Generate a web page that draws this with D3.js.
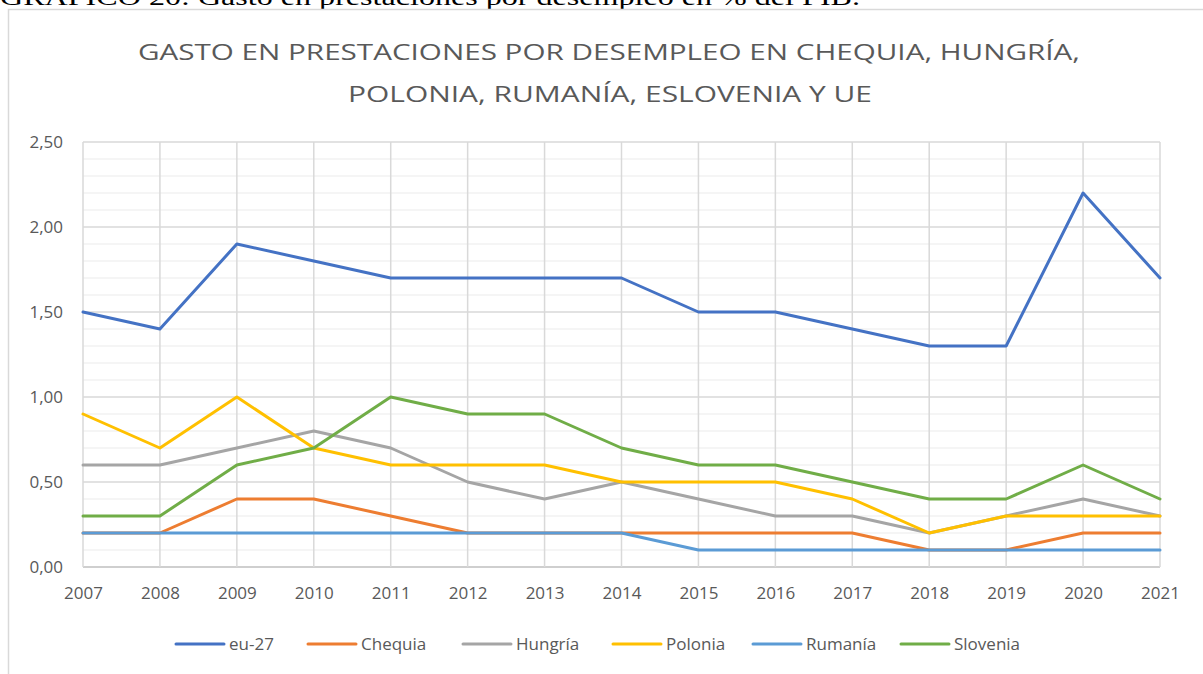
<!DOCTYPE html>
<html>
<head>
<meta charset="utf-8">
<script src="https://cdn.jsdelivr.net/npm/d3@7"></script>
<style>
  body { margin: 0; background: #fff; }
  svg { display: block; }
</style>
</head>
<body>
<svg id="chart" width="1203" height="674"></svg>
<script>
/*************** data ***************/
var years = [2007,2008,2009,2010,2011,2012,2013,2014,2015,2016,2017,2018,2019,2020,2021];
var seriesNames = ["eu-27","Chequia","Hungría","Polonia","Rumanía","Slovenia"];
var seriesColors = ["#4472C4","#ED7D31","#A5A5A5","#FFC000","#5B9BD5","#70AD47"];
var eu27     = [1.5,1.4,1.9,1.8,1.7,1.7,1.7,1.7,1.5,1.5,1.4,1.3,1.3,2.2,1.7];
var chequia  = [0.2,0.2,0.4,0.4,0.3,0.2,0.2,0.2,0.2,0.2,0.2,0.1,0.1,0.2,0.2];
var hungria  = [0.6,0.6,0.7,0.8,0.7,0.5,0.4,0.5,0.4,0.3,0.3,0.2,0.3,0.4,0.3];
var polonia  = [0.9,0.7,1.0,0.7,0.6,0.6,0.6,0.5,0.5,0.5,0.4,0.2,0.3,0.3,0.3];
var rumania  = [0.2,0.2,0.2,0.2,0.2,0.2,0.2,0.2,0.1,0.1,0.1,0.1,0.1,0.1,0.1];
var slovenia = [0.3,0.3,0.6,0.7,1.0,0.9,0.9,0.7,0.6,0.6,0.5,0.4,0.4,0.6,0.4];
var yTicks = [0,0.5,1,1.5,2,2.5];
var titleLines = ["GASTO EN PRESTACIONES POR DESEMPLEO EN CHEQUIA, HUNGRÍA,",
                  "POLONIA, RUMANÍA, ESLOVENIA Y UE"];
var caption = "GRÁFICO 20: Gasto en prestaciones por desempleo en % del PIB.";

var allValues = [eu27,chequia,hungria,polonia,rumania,slovenia];

/*************** setup ***************/
var svg = d3.select("#chart");
var margin = {left: 83, right: 43, top: 142, bottom: 107};
var W = 1203, H = 674;

var x = d3.scalePoint().domain(years).range([margin.left, W - margin.right]);
var y = d3.scaleLinear().domain([0, 2.5]).range([H - margin.bottom, margin.top]);

// caption from the document, its upper half is cut off by the page edge
svg.append("text")
   .attr("x", 0).attr("y", 5)
   .attr("textLength", 860)
   .attr("lengthAdjust", "spacingAndGlyphs")
   .attr("font-family", "Liberation Serif, serif")
   .attr("font-size", 24)
   .attr("fill", "#000")
   .text(caption);

// chart frame
svg.append("rect")
   .attr("x", 8.5).attr("y", 9.5)
   .attr("width", 1300).attr("height", 700)
   .attr("fill", "none")
   .attr("stroke", "#D9D9D9")
   .attr("stroke-width", 1.5);

// title
var titleX = [[138, 1080], [348, 872]];
svg.selectAll(".title")
   .data(titleLines)
   .enter()
   .append("text")
   .attr("class", "title")
   .attr("x", function(d,i){ return titleX[i][0]; })
   .attr("y", function(d,i){ return 60 + i * 42; })
   .attr("textLength", function(d,i){ return titleX[i][1] - titleX[i][0]; })
   .attr("lengthAdjust", "spacingAndGlyphs")
   .attr("font-family", "Open Sans, sans-serif")
   .attr("font-size", 22)
   .attr("fill", "#595959")
   .text(function(d){ return d; });

// minor gridlines
var minor = d3.range(0, 2.51, 0.1).filter(function(v){ return Math.abs(v*2 - Math.round(v*2)) > 0.01; });
svg.append("g")
   .selectAll("line")
   .data(minor)
   .enter()
   .append("line")
   .attr("x1", margin.left).attr("x2", W - margin.right)
   .attr("y1", function(d){ return y(d); }).attr("y2", function(d){ return y(d); })
   .attr("stroke", "#F2F2F2").attr("stroke-width", 1.5);

// major horizontal gridlines
svg.append("g")
   .selectAll("line")
   .data(yTicks)
   .enter()
   .append("line")
   .attr("x1", margin.left).attr("x2", W - margin.right)
   .attr("y1", function(d){ return y(d); }).attr("y2", function(d){ return y(d); })
   .attr("stroke", function(d){ return d === 0 ? "#BFBFBF" : "#D9D9D9"; })
   .attr("stroke-width", 1.5);

// vertical gridlines
svg.append("g")
   .selectAll("line")
   .data(years)
   .enter()
   .append("line")
   .attr("x1", function(d){ return x(d); }).attr("x2", function(d){ return x(d); })
   .attr("y1", y(2.5)).attr("y2", y(0))
   .attr("stroke", "#D9D9D9").attr("stroke-width", 1.5);

// y axis labels
var yAxis = d3.axisLeft(y).tickValues(yTicks).tickSize(0).tickPadding(20)
              .tickFormat(function(d){ return d3.format(".2f")(d).replace(".", ","); });
var gy = svg.append("g").attr("transform", "translate(" + margin.left + ",0)").call(yAxis);
gy.select(".domain").remove();
gy.selectAll("text")
  .attr("font-family", "Open Sans, sans-serif")
  .attr("font-size", 17)
  .attr("fill", "#595959");

// x axis labels
var xAxis = d3.axisBottom(x).tickSize(0).tickPadding(20);
var gx = svg.append("g").attr("transform", "translate(0," + y(0) + ")").call(xAxis);
gx.select(".domain").remove();
gx.selectAll("text")
  .attr("font-family", "Open Sans, sans-serif")
  .attr("font-size", 17)
  .attr("fill", "#595959");

// lines
var line = d3.line()
             .x(function(d,i){ return x(years[i]); })
             .y(function(d){ return y(d); });

svg.append("g")
   .selectAll("path")
   .data(allValues)
   .enter()
   .append("path")
   .attr("d", line)
   .attr("fill", "none")
   .attr("stroke", function(d,i){ return seriesColors[i]; })
   .attr("stroke-width", 3)
   .attr("stroke-linejoin", "round")
   .attr("stroke-linecap", "round");

// legend
var legendX = [176, 308, 463, 613, 753, 901];
var legendY = 644;
var leg = svg.append("g")
   .selectAll("g")
   .data(seriesNames)
   .enter()
   .append("g")
   .attr("transform", function(d,i){ return "translate(" + legendX[i] + "," + legendY + ")"; });
leg.append("line")
   .attr("x1", 0).attr("x2", 48)
   .attr("y1", 0).attr("y2", 0)
   .attr("stroke", function(d,i){ return seriesColors[i]; })
   .attr("stroke-width", 3)
   .attr("stroke-linecap", "round");
leg.append("text")
   .attr("x", 53).attr("y", 6)
   .attr("font-family", "Open Sans, sans-serif")
   .attr("font-size", 17)
   .attr("fill", "#595959")
   .text(function(d){ return d; });
</script>
</body>
</html>
